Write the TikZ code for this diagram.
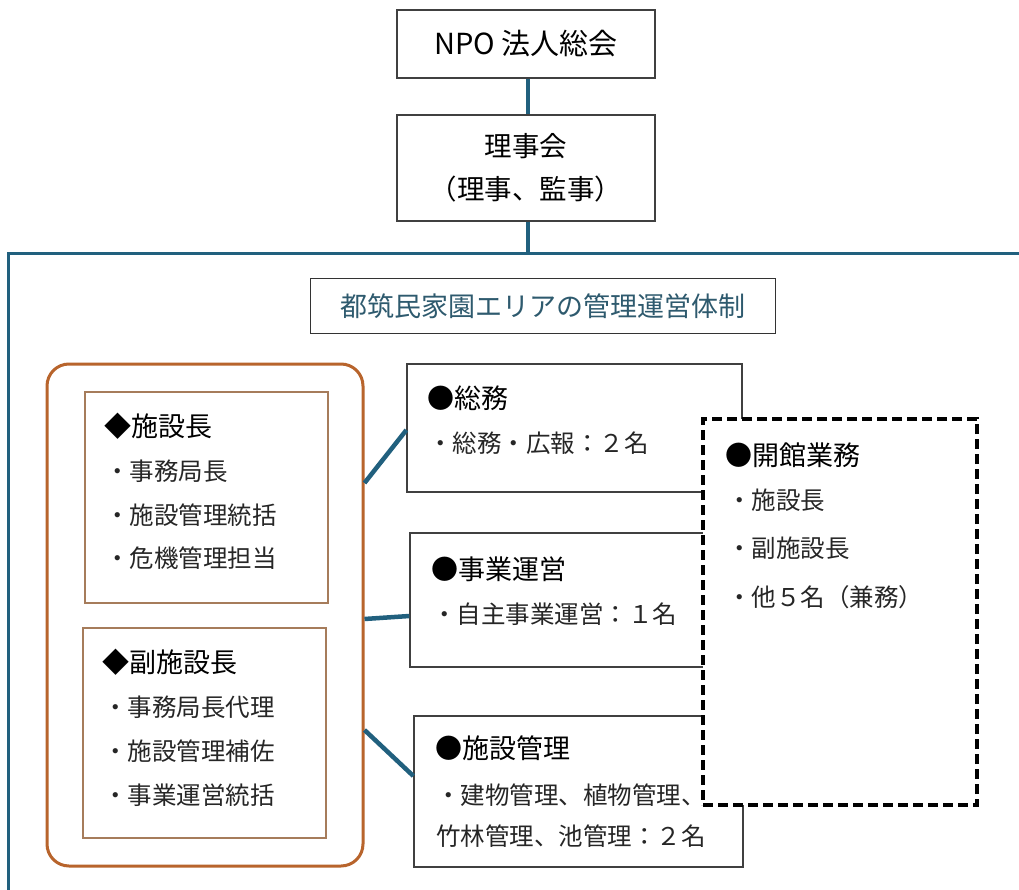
\documentclass[tikz,border=0pt]{standalone}
\usepackage{fontspec}
\setmainfont{Noto Sans CJK JP}
\definecolor{teal}{HTML}{21607E}
\definecolor{titlec}{HTML}{2E5A6E}
\definecolor{orng}{HTML}{B8642C}
\definecolor{brn}{HTML}{A67C5B}
\definecolor{bodyc}{HTML}{262626}
\begin{document}
\begin{tikzpicture}[x=1pt,y=-1pt,
  box/.style={draw=black!75,line width=1.3pt,fill=white,inner sep=0pt},
  inbox/.style={draw=brn,line width=1.2pt,inner sep=0pt},
  conn/.style={draw=teal,line width=4.5pt},
  frameline/.style={draw=teal,line width=3pt},
  hd/.style={anchor=west,inner sep=0pt,font=\fontsize{27}{27}\selectfont,text=black},
  bd/.style={anchor=west,inner sep=0pt,font=\fontsize{24.5}{24.5}\selectfont,text=bodyc},
  ]
\useasboundingbox (0,0) rectangle (1019,890);
\fill[white] (0,0) rectangle (1019,890);

% top boxes
\node[box,minimum width=258pt,minimum height=68pt,font=\fontsize{29}{29}\selectfont] (npo) at (526,44) {NPO 法人総会};
\node[box,minimum width=258pt,minimum height=106pt,align=center,font=\fontsize{27.5}{43}\selectfont] (riji) at (526,168) {理事会\\（理事、監事）};

\coordinate (ftop) at (528,254);
\coordinate (fbl) at (8,892);
\coordinate (ftr) at (1021,254);
\draw[frameline] (fbl) |- (ftr);
\draw[conn] (npo.south -| 528,0) -- (riji.north -| 528,0);
\draw[conn] (riji.south -| 528,0) -- (ftop);

% title
\node[draw=black!80,line width=1.2pt,fill=white,minimum width=465pt,minimum height=55pt,inner sep=0pt,text=titlec,font=\fontsize{27}{27}\selectfont] (title) at (543,306) {都筑民家園エリアの管理運営体制};

% left group
\node[draw=orng,line width=3pt,rounded corners=22pt,minimum width=316pt,minimum height=502pt,inner sep=0pt] (org) at (205,615) {};
\node[inbox,minimum width=243pt,minimum height=211pt] (b1) at (206.5,497.5) {};
\node[inbox,minimum width=243pt,minimum height=210pt] (b2) at (204.5,733) {};

\node[hd] (b1h) at (104,426) {◆施設長};
\node[bd] (b1a) at (105,471) {・事務局長};
\node[bd] (b1b) at (105,515) {・施設管理統括};
\node[bd] (b1c) at (105,558) {・危機管理担当};

\node[hd] (b2h) at (102,662) {◆副施設長};
\node[bd] (b2a) at (103,707) {・事務局長代理};
\node[bd] (b2b) at (103,751) {・施設管理補佐};
\node[bd] (b2c) at (103,795) {・事業運営統括};

% right boxes
\node[box,minimum width=335pt,minimum height=128pt] (somu) at (574.5,428) {};
\node[box,minimum width=332pt,minimum height=134pt] (jigyo) at (576,600) {};
\node[box,minimum width=329pt,minimum height=151pt] (shis) at (578.5,791.5) {};

\node[hd] (sh) at (427,398) {●総務};
\node[bd] (sa) at (428,443) {・総務・広報：２名};

\node[hd] (jh) at (431,569) {●事業運営};
\node[bd] (ja) at (432,614) {・自主事業運営：１名};

\node[hd] (fh) at (435,748) {●施設管理};
\node[bd] (fa) at (436,795) {・建物管理、植物管理、};
\node[bd] (fb) at (436,836) {竹林管理、池管理：２名};

% connectors
\draw[conn] (org.east |- 0,483) -- (somu.west |- 0,430);
\draw[conn] (org.east |- 0,619) -- (jigyo.west |- 0,616);
\draw[conn] (org.east |- 0,730) -- (shis.west |- 0,776);

% dashed box
\node[draw=black,fill=white,line width=3.6pt,dash pattern=on 10pt off 5pt,minimum width=274pt,minimum height=386pt,inner sep=0pt] (kai) at (840,612) {};
\node[hd] (kh) at (725,455) {●開館業務};
\node[bd] (ka) at (727,500) {・施設長};
\node[bd] (kb) at (727,548) {・副施設長};
\node[bd] (kc) at (727,597) {・他５名（兼務）};
\end{tikzpicture}
\end{document}
